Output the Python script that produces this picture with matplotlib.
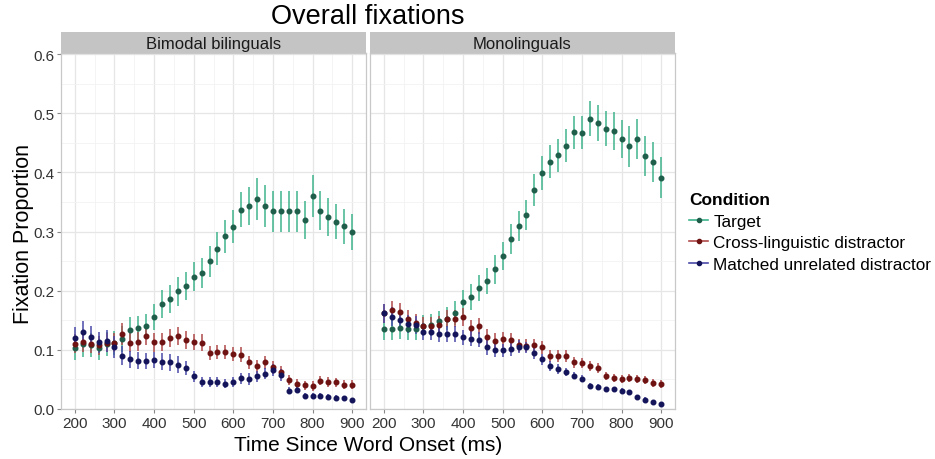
import matplotlib
matplotlib.use('Agg')
import matplotlib.pyplot as plt
from matplotlib.lines import Line2D
import numpy as np

plt.rcParams['font.family'] = ['Liberation Sans', 'DejaVu Sans']

# 时间点 (ms)
time_ms = list(range(200, 901, 20))

# 双模态双语者
bi_target = [0.103, 0.110, 0.108, 0.103, 0.110, 0.112, 0.119, 0.133, 0.137, 0.140, 0.155, 0.178,
             0.186, 0.199, 0.208, 0.224, 0.230, 0.250, 0.271, 0.292, 0.308, 0.337, 0.343, 0.355,
             0.343, 0.334, 0.334, 0.334, 0.334, 0.320, 0.360, 0.335, 0.324, 0.317, 0.309, 0.299]
bi_target_se = [0.020, 0.022, 0.020, 0.020, 0.020, 0.020, 0.022, 0.022, 0.020, 0.020, 0.022, 0.024,
                0.024, 0.024, 0.024, 0.024, 0.026, 0.026, 0.028, 0.028, 0.028, 0.030, 0.032, 0.035,
                0.035, 0.035, 0.035, 0.035, 0.035, 0.032, 0.036, 0.033, 0.032, 0.030, 0.030, 0.030]
bi_cross = [0.110, 0.113, 0.110, 0.108, 0.112, 0.112, 0.127, 0.112, 0.114, 0.124, 0.113, 0.113,
            0.120, 0.124, 0.117, 0.113, 0.112, 0.095, 0.096, 0.097, 0.093, 0.092, 0.079, 0.072,
            0.079, 0.071, 0.062, 0.049, 0.042, 0.040, 0.039, 0.048, 0.046, 0.045, 0.041, 0.041]
bi_cross_se = [0.016, 0.016, 0.016, 0.016, 0.016, 0.016, 0.018, 0.016, 0.016, 0.016, 0.016, 0.015,
               0.015, 0.015, 0.015, 0.014, 0.014, 0.012, 0.012, 0.012, 0.012, 0.012, 0.011, 0.011,
               0.011, 0.011, 0.010, 0.008, 0.008, 0.008, 0.008, 0.008, 0.008, 0.008, 0.008, 0.008]
bi_match = [0.120, 0.131, 0.122, 0.113, 0.115, 0.105, 0.090, 0.084, 0.082, 0.081, 0.083, 0.080,
            0.079, 0.075, 0.070, 0.055, 0.046, 0.046, 0.046, 0.043, 0.046, 0.052, 0.051, 0.055,
            0.060, 0.066, 0.058, 0.031, 0.032, 0.022, 0.022, 0.022, 0.020, 0.019, 0.018, 0.015]
bi_match_se = [0.018, 0.018, 0.018, 0.018, 0.018, 0.018, 0.016, 0.014, 0.014, 0.014, 0.014, 0.014,
               0.014, 0.014, 0.012, 0.010, 0.008, 0.008, 0.008, 0.008, 0.008, 0.009, 0.010, 0.010,
               0.010, 0.010, 0.010, 0.006, 0.005, 0.005, 0.005, 0.005, 0.005, 0.004, 0.004, 0.004]

# 单语者
mono_target = [0.135, 0.135, 0.137, 0.135, 0.135, 0.141, 0.142, 0.148, 0.153, 0.162, 0.181, 0.190,
               0.204, 0.216, 0.236, 0.259, 0.287, 0.309, 0.328, 0.370, 0.399, 0.418, 0.429, 0.445,
               0.468, 0.467, 0.491, 0.484, 0.474, 0.470, 0.457, 0.444, 0.457, 0.428, 0.418, 0.391]
mono_target_se = [0.018, 0.018, 0.018, 0.018, 0.018, 0.018, 0.018, 0.018, 0.020, 0.020, 0.020, 0.022,
                  0.022, 0.022, 0.024, 0.024, 0.025, 0.025, 0.026, 0.027, 0.028, 0.028, 0.028, 0.028,
                  0.028, 0.028, 0.030, 0.030, 0.030, 0.032, 0.032, 0.034, 0.034, 0.034, 0.034, 0.035]
mono_cross = [0.162, 0.167, 0.164, 0.152, 0.145, 0.140, 0.140, 0.142, 0.153, 0.153, 0.155, 0.137,
              0.140, 0.122, 0.115, 0.118, 0.116, 0.108, 0.107, 0.108, 0.104, 0.090, 0.090, 0.090,
              0.079, 0.078, 0.073, 0.069, 0.056, 0.052, 0.051, 0.052, 0.051, 0.049, 0.044, 0.042]
mono_cross_se = [0.016, 0.016, 0.016, 0.015, 0.015, 0.015, 0.015, 0.015, 0.015, 0.015, 0.015, 0.014,
                 0.014, 0.013, 0.013, 0.013, 0.012, 0.011, 0.011, 0.011, 0.011, 0.010, 0.010, 0.010,
                 0.009, 0.009, 0.009, 0.008, 0.007, 0.007, 0.007, 0.007, 0.007, 0.007, 0.007, 0.007]
mono_match = [0.162, 0.156, 0.151, 0.144, 0.142, 0.131, 0.130, 0.127, 0.127, 0.127, 0.121, 0.119,
              0.117, 0.104, 0.100, 0.099, 0.101, 0.105, 0.104, 0.094, 0.084, 0.073, 0.068, 0.063,
              0.056, 0.051, 0.039, 0.037, 0.034, 0.034, 0.031, 0.028, 0.020, 0.016, 0.012, 0.008]
mono_match_se = [0.016, 0.016, 0.016, 0.015, 0.015, 0.014, 0.014, 0.014, 0.014, 0.014, 0.013, 0.013,
                 0.013, 0.012, 0.012, 0.011, 0.011, 0.011, 0.010, 0.010, 0.009, 0.008, 0.008, 0.007,
                 0.006, 0.006, 0.005, 0.005, 0.004, 0.004, 0.004, 0.004, 0.004, 0.004, 0.004, 0.004]

conditions = ['Target', 'Cross-linguistic distractor', 'Matched unrelated distractor']
panels = ['Bimodal bilinguals', 'Monolinguals']
bar_colors = ['#3fb48c', '#b04a4a', '#4a4aa8']
dot_colors = ['#1f5e4a', '#6e1212', '#14145a']

panel_data = [
    [(bi_target, bi_target_se), (bi_cross, bi_cross_se), (bi_match, bi_match_se)],
    [(mono_target, mono_target_se), (mono_cross, mono_cross_se), (mono_match, mono_match_se)],
]

fig = plt.figure(figsize=(9.35, 4.6), dpi=100)

W, H = 935, 460
ax_lefts = [61, 370]
ax_w = 305
ax_top, ax_bot = 54, 410
strip_top = 33

for p in range(2):
    ax = fig.add_axes([ax_lefts[p] / W, 1 - ax_bot / H, ax_w / W, (ax_bot - ax_top) / H])
    t = np.array(time_ms)
    for c in range(3):
        y, se = panel_data[p][c]
        ax.errorbar(t, y, yerr=se, fmt='none', ecolor=bar_colors[c], elinewidth=1.1, zorder=3)
        ax.plot(t, y, 'o', color=dot_colors[c], markersize=3.3, zorder=4)
    ax.set_xlim(165, 935)
    ax.set_ylim(0, 0.602)
    ax.set_xticks(range(200, 901, 100))
    ax.set_xticks(range(250, 900, 100), minor=True)
    ax.set_yticks(np.arange(0, 0.61, 0.1))
    ax.set_yticks(np.arange(0.05, 0.6, 0.1), minor=True)
    ax.grid(True, which='major', color='#e6e6e6', linewidth=0.9, zorder=0)
    ax.grid(True, which='minor', color='#f2f2f2', linewidth=0.6, zorder=0)
    ax.set_axisbelow(True)
    for s in ax.spines.values():
        s.set_color('#c8c8c8')
        s.set_linewidth(0.9)
    ax.tick_params(which='major', length=3, color='#888888', labelsize=11, labelcolor='#333333', pad=2)
    ax.tick_params(which='minor', length=0)
    if p == 0:
        ax.set_yticklabels(['0.0', '0.1', '0.2', '0.3', '0.4', '0.5', '0.6'])
    else:
        ax.tick_params(axis='y', labelleft=False, length=0)

    # 分面标题条
    sax = fig.add_axes([ax_lefts[p] / W, 1 - ax_top / H, ax_w / W, (ax_top - strip_top) / H])
    sax.set_facecolor('#c4c4c4')
    sax.set_xticks([])
    sax.set_yticks([])
    for s in sax.spines.values():
        s.set_visible(False)
    sax.text(0.5, 0.45, panels[p], ha='center', va='center', fontsize=12, color='#1a1a1a')

fig.text(368 / W, 1 - 17 / H, 'Overall fixations', ha='center', va='center', fontsize=19.5)
fig.text(368 / W, 1 - 446 / H, 'Time Since Word Onset (ms)', ha='center', va='center', fontsize=15)
fig.text(24 / W, 1 - 234 / H, 'Fixation Proportion', ha='center', va='center', rotation=90, fontsize=15.5)

handles = [Line2D([0], [0], color=bar_colors[c], marker='o', markerfacecolor=dot_colors[c],
                  markeredgecolor=dot_colors[c], markersize=3, linewidth=1.2) for c in range(3)]
leg = fig.legend(handles, conditions, loc='upper left', bbox_to_anchor=(686 / W, 1 - 190 / H),
                 frameon=False, fontsize=12.3, title='Condition', handlelength=1.1,
                 handletextpad=0.3, labelspacing=0.38, borderaxespad=0, borderpad=0.2)
leg.get_title().set_fontweight('bold')
leg.get_title().set_fontsize(12.5)
leg._legend_box.align = 'left'

fig.savefig('out.png', dpi=100)
